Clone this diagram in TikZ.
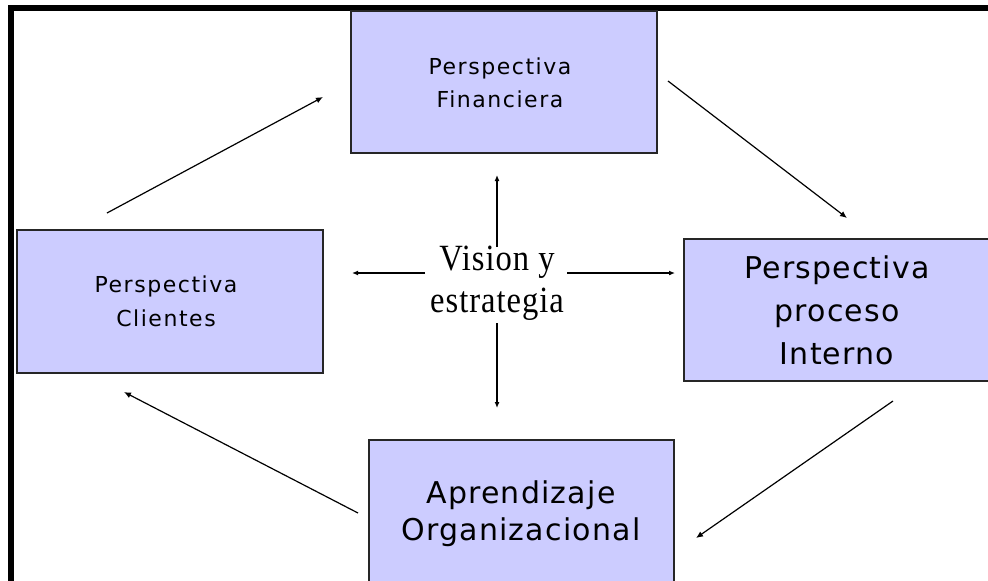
\documentclass[tikz,border=0pt]{standalone}
\usepackage{fontspec}
\setmainfont{Liberation Serif}
\newfontfamily\smallboxfont[LetterSpace=7]{DejaVu Sans}
\newfontfamily\bigboxfont[LetterSpace=4]{DejaVu Sans}
\newfontfamily\visfont[LetterSpace=3]{Liberation Serif}
\usetikzlibrary{arrows.meta}
\definecolor{boxfill}{HTML}{CCCCFF}
\begin{document}
\begin{tikzpicture}[x=1pt,y=-1pt,
  persp/.style={draw=black!85, line width=1.6pt, fill=boxfill, inner sep=0pt},
  lbl/.style={inner sep=0pt, align=center},
  flow/.style={line width=1.2pt, -{Latex[length=7pt,width=6pt]}},
  axis/.style={line width=1.4pt, -{Latex[length=6pt,width=5pt]}},
  ]
\useasboundingbox (0,0) rectangle (988,581);
\begin{scope}
\clip (0,0) rectangle (988,581);
\fill[white] (0,0) rectangle (988,581);
% frame
\fill[black] (8,5) rectangle (988,11);
\fill[black] (8,5) rectangle (14,581);
% boxes
\node[persp, minimum width=306pt, minimum height=142pt] (fin) at (504,82) {};
\node[persp, minimum width=306pt, minimum height=143pt] (cli) at (170,301.5) {};
\node[persp, minimum width=306pt, minimum height=142pt] (int) at (837,310) {};
\node[persp, minimum width=305pt, minimum height=150pt] (apr) at (521.5,515) {};
% labels
\node[lbl, font=\smallboxfont\fontsize{22}{33}\selectfont] (finT) at (500,83) {Perspectiva\\Financiera};
\node[lbl, font=\smallboxfont\fontsize{22}{34}\selectfont] (cliT) at (166,301) {Perspectiva\\Clientes};
\node[lbl, font=\bigboxfont\fontsize{30}{43}\selectfont] (intT) at (837,310) {Perspectiva\\proceso\\Interno};
\node[lbl, font=\bigboxfont\fontsize{30}{37}\selectfont] (aprT) at (521,514) {Aprendizaje\\Organizacional};
\node[lbl, font=\visfont\fontsize{37}{42}\selectfont, xscale=0.88] (vis) at (497,283) {Vision y\\estrategia};
% central arrows
\coordinate (vU0) at (497,247); \coordinate (vU1) at (497,175);
\coordinate (vD0) at (497,323); \coordinate (vD1) at (497,408);
\coordinate (vL0) at (425,273); \coordinate (vL1) at (352,273);
\coordinate (vR0) at (567,273); \coordinate (vR1) at (675,273);
\draw[axis] (vU0) -- (vU1);
\draw[axis] (vD0) -- (vD1);
\draw[axis] (vL0) -- (vL1);
\draw[axis] (vR0) -- (vR1);
% cycle arrows
\coordinate (a1s) at (107,213); \coordinate (a1e) at (323,97);
\coordinate (a2s) at (668,81);  \coordinate (a2e) at (847,218);
\coordinate (a3s) at (893,401); \coordinate (a3e) at (696,538);
\coordinate (a4s) at (358,513); \coordinate (a4e) at (124,392);
\draw[flow] (a1s) -- (a1e);
\draw[flow] (a2s) -- (a2e);
\draw[flow] (a3s) -- (a3e);
\draw[flow] (a4s) -- (a4e);
\end{scope}
\end{tikzpicture}
\end{document}
